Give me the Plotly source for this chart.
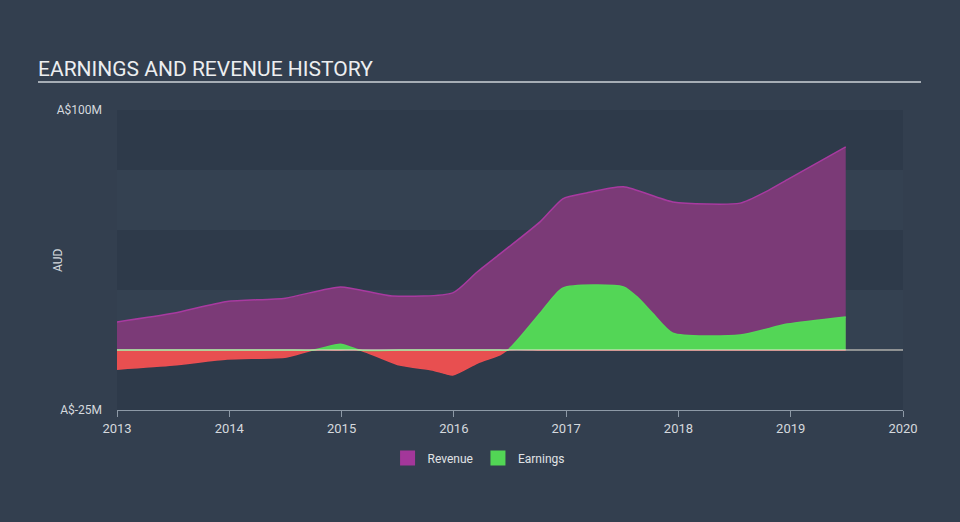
import plotly.graph_objects as go

# ---- data ----
rev_x = [2013.00, 2013.50, 2013.98, 2014.50, 2014.99, 2015.45, 2015.99, 2016.21,
         2016.77, 2016.97, 2017.18, 2017.51, 2017.95, 2018.55, 2018.78, 2018.97, 2019.49]
rev_y = [11.7, 15.3, 20.2, 21.6, 26.3, 22.5, 23.8, 32.6,
         53.5, 63.0, 65.4, 68.0, 61.7, 61.2, 66.0, 71.0, 84.6]

earn_x = [2013.00, 2013.50, 2013.98, 2014.51, 2014.75, 2014.99, 2015.16, 2015.52,
          2015.81, 2015.99, 2016.21, 2016.41, 2016.48, 2016.77, 2016.97, 2017.51,
          2017.64, 2017.77, 2017.95, 2018.55, 2018.97, 2019.49]
earn_y = [-8.0, -6.3, -3.8, -2.9, 0.0, 2.4, 0.0, -6.3,
          -8.3, -10.4, -5.4, -2.0, 0.0, 15.4, 25.8, 26.3,
          21.7, 15.3, 7.0, 6.2, 10.8, 13.8]

year_ticks = [2013, 2014, 2015, 2016, 2017, 2018, 2019, 2020]
y_ticks = [-25, 100]
y_tick_labels = ["A$-25M", "A$100M"]

earn_pos = [max(v, 0) for v in earn_y]
earn_neg = [min(v, 0) for v in earn_y]

PAPER = "#333f4f"
BAND_DARK = "#2e3a4a"
BAND_LIGHT = "#344151"

fig = go.Figure()

fig.add_trace(go.Scatter(
    x=rev_x, y=rev_y, mode="lines", line=dict(color="#a83aa0", width=1.5, shape="spline", smoothing=0.6),
    fill="tozeroy", fillcolor="#7b3a77", showlegend=False, hoverinfo="skip"))

fig.add_trace(go.Scatter(
    x=earn_x, y=earn_neg, mode="lines", line=dict(color="#ea4f52", width=1.5, shape="spline", smoothing=0.6),
    fill="tozeroy", fillcolor="#e84f50", showlegend=False, hoverinfo="skip"))

fig.add_trace(go.Scatter(
    x=earn_x, y=earn_pos, mode="lines", line=dict(color="#55d858", width=1.5, shape="spline", smoothing=0.6),
    fill="tozeroy", fillcolor="#53d656", showlegend=False, hoverinfo="skip"))

# legend entries
fig.add_trace(go.Scatter(x=[None], y=[None], mode="markers", name="Revenue",
                         marker=dict(symbol="square", size=15, color="#a3379a")))
fig.add_trace(go.Scatter(x=[None], y=[None], mode="markers", name="Earnings",
                         marker=dict(symbol="square", size=15, color="#52d655")))

shapes = []
for lo, hi in [(75, 100), (25, 50), (-25, 0)]:
    shapes.append(dict(type="rect", xref="paper", yref="y", x0=0, x1=1, y0=lo, y1=hi,
                       fillcolor=BAND_DARK, line=dict(width=0), layer="below"))
# zero line
shapes.append(dict(type="line", xref="paper", yref="y", x0=0, x1=1, y0=0, y1=0,
                   line=dict(color="#ece6d8", width=1), layer="above"))
# title underline
shapes.append(dict(type="line", xref="paper", yref="paper",
                   x0=(38 - 117) / 786, x1=(921 - 117) / 786,
                   y0=(410 - 82) / 300, y1=(410 - 82) / 300,
                   line=dict(color="#a6adb5", width=2)))

fig.update_layout(
    width=960, height=522,
    margin=dict(l=117, r=57, t=110, b=112),
    paper_bgcolor=PAPER, plot_bgcolor=BAND_LIGHT,
    font=dict(family="Roboto, sans-serif", color="#d5d9de", size=12),
    title=dict(text="EARNINGS AND REVENUE HISTORY", x=38 / 960, xanchor="left",
               y=1 - 69 / 522, yanchor="middle",
               font=dict(size=21, color="#eceef0", family="Roboto, sans-serif")),
    xaxis=dict(range=[2013, 2020], tickvals=year_ticks, ticktext=[str(t) for t in year_ticks],
               showgrid=False, zeroline=False, showline=True, linecolor="#8d99a6", linewidth=1,
               ticks="outside", ticklen=6, tickcolor="#8d99a6", tickfont=dict(size=13, color="#d5d9de")),
    yaxis=dict(range=[-25, 100], tickvals=y_ticks, ticktext=y_tick_labels,
               showgrid=False, zeroline=False, showline=False, ticks="",
               ticklabelstandoff=14,
               tickfont=dict(size=12, color="#d5d9de")),
    legend=dict(orientation="h", x=0.46, xanchor="center", y=-0.16, yanchor="middle",
                font=dict(size=12, color="#e0e3e6"), bgcolor="rgba(0,0,0,0)"),
    shapes=shapes,
    annotations=[dict(text="AUD", xref="paper", yref="paper", x=(58 - 117) / 786, y=0.5,
                      xanchor="center", yanchor="middle", textangle=-90, showarrow=False,
                      font=dict(size=12, color="#d5d9de"))],
)

fig.write_html("out.html")
